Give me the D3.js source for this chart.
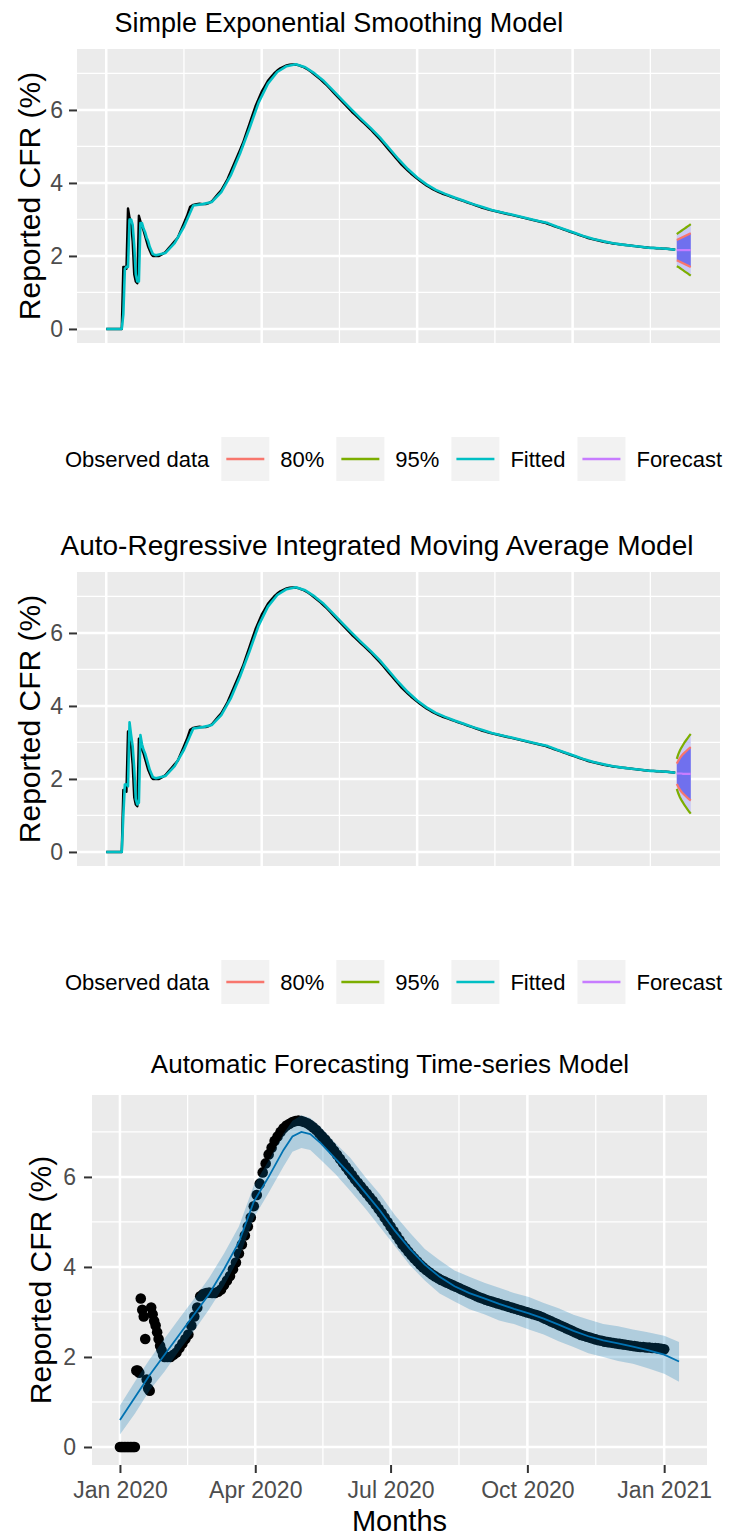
<!DOCTYPE html>
<html><head><meta charset="utf-8">
<script src="https://cdn.jsdelivr.net/npm/d3@7"></script>
<style>
body{margin:0;background:#fff}
svg{display:block}
text{font-family:"Liberation Sans", Arial, Helvetica, sans-serif}
</style>
</head><body>
<svg id="c" width="736" height="1539"></svg>
<script>
// ---------------- DATA ----------------
// Observed reported CFR (%) by day (0 = 1 Jan 2020)
const obsEarlyDay = d3.range(0, 31);
const obsEarlyCFR = [0,0,0,0,0,0,0,0,0,0,0,
  1.7,1.7,1.65,3.3,3.05,2.9,2.4,1.5,1.3,1.25,3.1,2.95,2.8,2.7,2.55,2.4,2.25,2.15,2.05,2.0];
const obsLateDay = d3.range(32, 367, 2);
const obsLateCFR = [
  2.0,2.0,2.05,2.1,2.2,2.3,2.4,2.5,2.7,2.9,
  3.1,3.35,3.4,3.42,3.43,3.42,3.42,3.45,3.5,3.6,
  3.7,3.8,3.95,4.1,4.3,4.5,4.7,4.9,5.1,5.35,
  5.6,5.85,6.1,6.3,6.5,6.65,6.8,6.9,7.0,7.08,
  7.14,7.18,7.22,7.24,7.25,7.24,7.22,7.19,7.15,7.1,
  7.04,6.97,6.9,6.83,6.75,6.67,6.58,6.49,6.4,6.31,
  6.22,6.13,6.04,5.95,5.87,5.79,5.71,5.63,5.55,5.47,
  5.38,5.29,5.2,5.1,5.0,4.9,4.8,4.7,4.6,4.5,
  4.42,4.34,4.26,4.19,4.12,4.05,3.99,3.93,3.88,3.83,
  3.79,3.75,3.71,3.68,3.65,3.62,3.59,3.56,3.53,3.5,
  3.47,3.44,3.41,3.38,3.35,3.32,3.3,3.27,3.25,3.23,
  3.21,3.19,3.17,3.15,3.13,3.11,3.09,3.07,3.05,3.03,
  3.01,2.99,2.97,2.95,2.93,2.91,2.88,2.85,2.82,2.79,
  2.76,2.73,2.7,2.67,2.64,2.61,2.58,2.55,2.52,2.49,
  2.47,2.45,2.43,2.41,2.39,2.37,2.36,2.34,2.33,2.32,
  2.31,2.3,2.29,2.28,2.27,2.26,2.25,2.24,2.23,2.22,
  2.22,2.21,2.21,2.2,2.2,2.19,2.18,2.17];

// Fitted values (early part differs by model, later part shared)
const fitEarlyDay = d3.range(0, 31);
const fitEarlySES = [0,0,0,0,0,0,0,0,0,0,0,
  0.4,1.65,1.7,1.7,3.0,3.0,2.85,2.3,1.5,1.3,1.3,2.9,2.9,2.75,2.65,2.5,2.4,2.25,2.15,2.05];
const fitEarlyARIMA = [0,0,0,0,0,0,0,0,0,0,0,
  1.0,1.85,1.85,1.8,3.55,3.2,2.9,2.3,1.45,1.3,1.35,3.2,2.95,2.8,2.7,2.55,2.4,2.25,2.15,2.05];
const fitLateDay = d3.range(32, 363, 6).concat([366]);
const fitLate = [
  2.02,2.08,2.35,2.8,3.38,3.42,3.48,3.75,4.2,4.8,
  5.48,6.2,6.72,7.04,7.2,7.25,7.17,7.0,6.79,6.53,
  6.26,6.0,5.75,5.51,5.25,4.95,4.65,4.38,4.15,3.96,
  3.81,3.7,3.6,3.51,3.42,3.34,3.26,3.2,3.14,3.08,
  3.02,2.96,2.9,2.8,2.71,2.62,2.53,2.46,2.4,2.35,
  2.31,2.28,2.25,2.22,2.21,2.19,2.17];

// 10-day forecasts
const fcDay = d3.range(367, 377);
const sesMean = [2.16,2.16,2.16,2.16,2.16,2.16,2.16,2.16,2.16,2.16];
const sesLo80 = [1.88,1.86,1.84,1.82,1.80,1.78,1.76,1.74,1.72,1.70];
const sesHi80 = [2.44,2.46,2.48,2.50,2.52,2.54,2.56,2.58,2.60,2.62];
const sesLo95 = [1.72,1.70,1.67,1.64,1.61,1.58,1.55,1.52,1.49,1.46];
const sesHi95 = [2.60,2.63,2.66,2.69,2.72,2.75,2.78,2.81,2.84,2.87];
const arMean = [2.15,2.15,2.15,2.15,2.14,2.14,2.14,2.14,2.14,2.14];
const arLo80 = [1.86,1.78,1.71,1.65,1.60,1.56,1.52,1.48,1.44,1.41];
const arHi80 = [2.42,2.50,2.57,2.63,2.68,2.72,2.76,2.80,2.84,2.87];
const arLo95 = [1.73,1.60,1.50,1.42,1.35,1.28,1.22,1.16,1.10,1.05];
const arHi95 = [2.55,2.68,2.78,2.86,2.93,3.00,3.06,3.12,3.18,3.23];

// Automatic forecasting (prophet-style) fit
const pDay = [0,10,20,30,40,50,60,70,80,90,100,110,116,122,128,135,145,155,165,175,185,195,205,215,225,235,245,255,265,275,285,295,305,315,325,335,345,355,366,376];
const pHat = [0.6,1.1,1.6,2.05,2.5,2.95,3.4,3.95,4.55,5.45,6.0,6.6,6.9,7.0,6.95,6.75,6.4,6.05,5.65,5.25,4.8,4.4,4.05,3.78,3.57,3.42,3.3,3.18,3.07,2.97,2.85,2.72,2.58,2.46,2.37,2.3,2.23,2.15,2.05,1.9];
const pLo = [0.28,0.74,1.26,1.68,2.15,2.59,3.06,3.58,4.2,5.09,5.65,6.23,6.56,6.64,6.6,6.38,6.06,5.69,5.3,4.88,4.46,4.04,3.7,3.41,3.23,3.06,2.95,2.81,2.73,2.61,2.5,2.35,2.22,2.08,2.0,1.91,1.85,1.75,1.63,1.45];
const pHi = [0.92,1.45,1.95,2.41,2.86,3.3,3.76,4.3,4.9,5.81,6.36,6.96,7.25,7.37,7.31,7.11,6.75,6.42,6.0,5.61,5.15,4.76,4.4,4.15,3.92,3.78,3.65,3.54,3.42,3.33,3.2,3.08,2.94,2.83,2.73,2.68,2.61,2.55,2.47,2.33];

// Labels
const titles = ["Simple Exponential Smoothing Model",
  "Auto-Regressive Integrated Moving Average Model",
  "Automatic Forecasting Time-series Model"];
const yLabel = "Reported CFR (%)";
const xLabel = "Months";
const yTicks = [0,2,4,6];
const yMinor = [1,3,5,7];
const dayMajor = [0,100,200,300];
const dayMinor = [50,150,250,350];
const legendTitle = "Observed data";
const legendLabels = ["80%","95%","Fitted","Forecast"];
const legendColors = ["#F8766D","#7CAE00","#00BFC4","#C77CFF"];
const monthTicks = ["2020-01-01","2020-04-01","2020-07-01","2020-10-01","2021-01-01"];

// ---------------- DRAW ----------------
const svg = d3.select("#c");
const BG = "#EBEBEB";
const AX = "#4D4D4D";

const obsDay = obsEarlyDay.concat(obsLateDay);
const obsCFR = obsEarlyCFR.concat(obsLateCFR);
const obs = obsDay.map((d,i)=>({d, v: obsCFR[i]}));

function gridLines(g, xs, ys, xMaj, xMin, box){
  g.append("rect").attr("x",box.l).attr("y",box.t)
    .attr("width",box.r-box.l).attr("height",box.b-box.t).attr("fill",BG);
  const lw = {minor:1.3, major:2.5};
  g.selectAll(null).data(yMinor).join("line")
    .attr("x1",box.l).attr("x2",box.r).attr("y1",d=>ys(d)).attr("y2",d=>ys(d))
    .attr("stroke","#fff").attr("stroke-width",lw.minor);
  g.selectAll(null).data(xMin).join("line")
    .attr("y1",box.t).attr("y2",box.b).attr("x1",d=>xs(d)).attr("x2",d=>xs(d))
    .attr("stroke","#fff").attr("stroke-width",lw.minor);
  g.selectAll(null).data(yTicks).join("line")
    .attr("x1",box.l).attr("x2",box.r).attr("y1",d=>ys(d)).attr("y2",d=>ys(d))
    .attr("stroke","#fff").attr("stroke-width",lw.major);
  g.selectAll(null).data(xMaj).join("line")
    .attr("y1",box.t).attr("y2",box.b).attr("x1",d=>xs(d)).attr("x2",d=>xs(d))
    .attr("stroke","#fff").attr("stroke-width",lw.major);
}

function yAxis(g, ys, x, pad){
  const a = g.append("g").attr("transform",`translate(${x},0)`)
    .call(d3.axisLeft(ys).tickValues(yTicks).tickSize(8).tickPadding(pad).tickFormat(d3.format("d")));
  a.select(".domain").remove();
  a.selectAll(".tick line").attr("stroke","#333").attr("stroke-width",2);
  a.selectAll(".tick text").attr("fill",AX).style("font-size","23px")
    .style("font-family",'"Liberation Sans", Arial, sans-serif');
}

function clip(id, box){
  svg.append("defs").append("clipPath").attr("id",id).append("rect")
    .attr("x",box.l).attr("y",box.t).attr("width",box.r-box.l).attr("height",box.b-box.t);
}

function forecastPanel(k, off, fitEarly, mean, lo80, hi80, lo95, hi95, titleX, titleSize){
  const box = {l:77, r:720, t:49+off, b:343+off};
  const xs = d3.scaleLinear().domain([-18.8, 394.8]).range([box.l, box.r]);
  const ys = d3.scaleLinear().domain([-0.385, 7.67]).range([box.b, box.t]);
  const g = svg.append("g");
  gridLines(g, xs, ys, dayMajor, dayMinor, box);
  clip("cp"+k, box);
  const pg = g.append("g").attr("clip-path",`url(#cp${k})`);
  const line = d3.line().x(p=>xs(p.d)).y(p=>ys(p.v));
  const fc = fcDay.map((d,i)=>({d, m:mean[i], l8:lo80[i], h8:hi80[i], l9:lo95[i], h9:hi95[i]}));
  pg.append("path").datum(fc).attr("fill","#C9C9F6")
    .attr("d", d3.area().x(p=>xs(p.d)).y0(p=>ys(p.l9)).y1(p=>ys(p.h9)));
  pg.append("path").datum(fc).attr("fill","#7070EE")
    .attr("d", d3.area().x(p=>xs(p.d)).y0(p=>ys(p.l8)).y1(p=>ys(p.h8)));
  pg.append("path").datum(obs).attr("fill","none").attr("stroke","#000")
    .attr("stroke-width",2.4).attr("stroke-linejoin","round").attr("d",line);
  const fit = fitEarlyDay.map((d,i)=>({d, v:fitEarly[i]}))
    .concat(fitLateDay.map((d,i)=>({d, v:fitLate[i]})));
  pg.append("path").datum(fit).attr("fill","none").attr("stroke",legendColors[2])
    .attr("stroke-width",2.6).attr("stroke-linejoin","round").attr("d",line);
  const bl = (key,col)=>pg.append("path").datum(fc).attr("fill","none").attr("stroke",col)
    .attr("stroke-width",2.2).attr("d",d3.line().x(p=>xs(p.d)).y(p=>ys(p[key])));
  bl("l8",legendColors[0]); bl("h8",legendColors[0]);
  bl("l9",legendColors[1]); bl("h9",legendColors[1]);
  bl("m",legendColors[3]);
  yAxis(g, ys, box.l, 6);
  g.append("text").attr("transform",`translate(40,${(box.t+box.b)/2}) rotate(-90)`)
    .attr("text-anchor","middle").style("font-size","30px").attr("fill","#000").text(yLabel);
  g.append("text").attr("x",titleX).attr("y",32+off).attr("text-anchor","middle")
    .style("font-size",titleSize+"px").attr("fill","#000").text(titles[k]);
  // legend
  const ly = 459+off;
  const lg = g.append("g");
  let x = 65;
  const fs = "22px";
  const t0 = lg.append("text").attr("x",x).attr("y",ly+8).style("font-size",fs).attr("fill","#000").text(legendTitle);
  x += t0.node().getComputedTextLength() + 12;
  legendLabels.forEach((lab,i)=>{
    lg.append("rect").attr("x",x).attr("y",ly-22).attr("width",48).attr("height",44).attr("fill","#F2F2F2");
    lg.append("line").attr("x1",x+5).attr("x2",x+43).attr("y1",ly).attr("y2",ly)
      .attr("stroke",legendColors[i]).attr("stroke-width",2.6);
    x += 48 + 11;
    const t = lg.append("text").attr("x",x).attr("y",ly+8).style("font-size",fs).attr("fill","#000").text(lab);
    x += t.node().getComputedTextLength() + 12;
  });
}

forecastPanel(0, 0, fitEarlySES, sesMean, sesLo80, sesHi80, sesLo95, sesHi95, 339, 27);
forecastPanel(1, 523, fitEarlyARIMA, arMean, arLo80, arHi80, arLo95, arHi95, 377, 28);

// ---------------- Panel 3 ----------------
(function(){
  const box = {l:92, r:707, t:1095, b:1465};
  const parse = d3.utcParse("%Y-%m-%d");
  const origin = parse("2020-01-01");
  const dayToDate = d => new Date(origin.getTime() + d*864e5);
  const xs = d3.scaleUtc().domain([dayToDate(-18.8), dayToDate(394.8)]).range([box.l, box.r]);
  const ys = d3.scaleLinear().domain([-0.4, 7.82]).range([box.b, box.t]);
  const maj = monthTicks.map(parse);
  const minor = d3.pairs(maj).map(([a,b])=>new Date((a.getTime()+b.getTime())/2));
  const g = svg.append("g");
  gridLines(g, xs, ys, maj, minor, box);
  clip("cp2", box);
  const pg = g.append("g").attr("clip-path","url(#cp2)");
  pg.selectAll("circle").data(obs).join("circle")
    .attr("cx",p=>xs(dayToDate(p.d))).attr("cy",p=>ys(p.v)).attr("r",5.3).attr("fill","#000");
  const pd = pDay.map((d,i)=>({t:dayToDate(d), m:pHat[i], l:pLo[i], h:pHi[i]}));
  pg.append("path").datum(pd).attr("fill","#0072B2").attr("fill-opacity",0.25)
    .attr("d", d3.area().x(p=>xs(p.t)).y0(p=>ys(p.l)).y1(p=>ys(p.h)));
  pg.append("path").datum(pd).attr("fill","none").attr("stroke","#0072B2").attr("stroke-width",1.8)
    .attr("d", d3.line().x(p=>xs(p.t)).y(p=>ys(p.m)));
  yAxis(g, ys, box.l, 8);
  const xa = g.append("g").attr("transform",`translate(0,${box.b})`)
    .call(d3.axisBottom(xs).tickValues(maj).tickSize(8).tickPadding(9).tickFormat(d3.utcFormat("%b %Y")));
  xa.select(".domain").remove();
  xa.selectAll(".tick line").attr("stroke","#333").attr("stroke-width",2);
  xa.selectAll(".tick text").attr("fill",AX).style("font-size","23px")
    .style("font-family",'"Liberation Sans", Arial, sans-serif');
  g.append("text").attr("transform",`translate(51,${(box.t+box.b)/2}) rotate(-90)`)
    .attr("text-anchor","middle").style("font-size","30px").attr("fill","#000").text(yLabel);
  g.append("text").attr("x",(box.l+box.r)/2).attr("y",1531).attr("text-anchor","middle")
    .style("font-size","29px").attr("fill","#000").text(xLabel);
  g.append("text").attr("x",390).attr("y",1073).attr("text-anchor","middle")
    .style("font-size","26px").attr("fill","#000").text(titles[2]);
})();
</script>
</body></html>
